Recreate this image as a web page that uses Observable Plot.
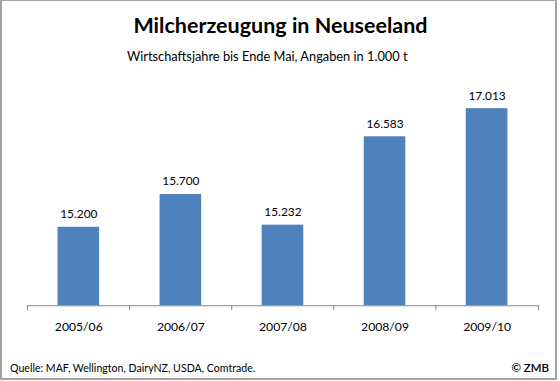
<!DOCTYPE html>
<html>
<head>
<meta charset="utf-8">
<script src="https://cdn.jsdelivr.net/npm/d3@7"></script>
<script src="https://cdn.jsdelivr.net/npm/@observablehq/plot@0.6"></script>
<style>
  html, body { margin: 0; padding: 0; background: #fff; }
  #frame { position: relative; width: 557px; height: 380px; box-sizing: border-box;
           border: 2px solid #a3a3a3; border-top-width: 1px; overflow: hidden; font-family: Lato, "Open Sans", sans-serif; }
  #chart { position: absolute; left: -2px; top: -1px; }
  .title { position: absolute; left: 0; width: 557px; top: 11px; text-align: center; font-size: 21.5px; font-weight: 700; color: #000; }
  .subtitle { position: absolute; left: 125px; top: 47px; font-size: 12.8px; color: #000; }
  .source { position: absolute; left: 8px; top: 361px; font-size: 10.6px; color: #000; }
  .copy { position: absolute; right: 6px; top: 360px; font-size: 11.5px; color: #000; font-weight: 600; }
</style>
</head>
<body>
<div id="frame">
  <div id="chart"></div>
  <div class="title">Milcherzeugung in Neuseeland</div>
  <div class="subtitle">Wirtschaftsjahre bis Ende Mai, Angaben in 1.000 t</div>
  <div class="source">Quelle: MAF, Wellington, DairyNZ, USDA, Comtrade.</div>
  <div class="copy">© ZMB</div>
</div>
<script>
const years = ["2005/06", "2006/07", "2007/08", "2008/09", "2009/10"];
const production = [15200, 15700, 15232, 16583, 17013];
const yDomain = [14000, 17500];

const data = years.map((year, i) => ({year, value: production[i]}));
const fmt = d3.formatLocale({decimal: ",", thousands: ".", grouping: [3], currency: ["", " €"]}).format(",.0f");

const W = 560, H = 381;
const mL = 27, mR = 16, mT = 77, mB = 73;
const step = (W - mL - mR) / years.length;

const plot = Plot.plot({
  width: W,
  height: H,
  marginLeft: mL,
  marginRight: mR,
  marginTop: mT,
  marginBottom: mB,
  style: {fontFamily: "Lato, 'Open Sans', sans-serif", fontSize: "12px", color: "#000", background: "transparent", overflow: "visible"},
  x: {domain: years, paddingInner: 0.59, paddingOuter: 0.295, label: null},
  y: {domain: yDomain, axis: null},
  marks: [
    Plot.barY(data, {x: "year", y1: yDomain[0], y2: "value", fill: "#4f81bd"}),
    Plot.ruleY([yDomain[0]], {stroke: "#868686", strokeWidth: 1}),
    Plot.ruleX(years, {x: d => d, y1: yDomain[0], y2: yDomain[0], insetBottom: -5, dx: -step / 2, stroke: "#868686"}),
    Plot.ruleX([years[years.length - 1]], {x: d => d, y1: yDomain[0], y2: yDomain[0], insetBottom: -5, dx: step / 2, stroke: "#868686"}),
    Plot.text(data, {x: "year", y: "value", text: d => fmt(d.value), dy: -13, fontSize: 12, fill: "#000"}),
    Plot.axisX({tickSize: 0, tickPadding: 17, fontSize: 12.3, label: null, fill: "#000"})
  ]
});
document.getElementById("chart").appendChild(plot);
</script>
</body>
</html>
